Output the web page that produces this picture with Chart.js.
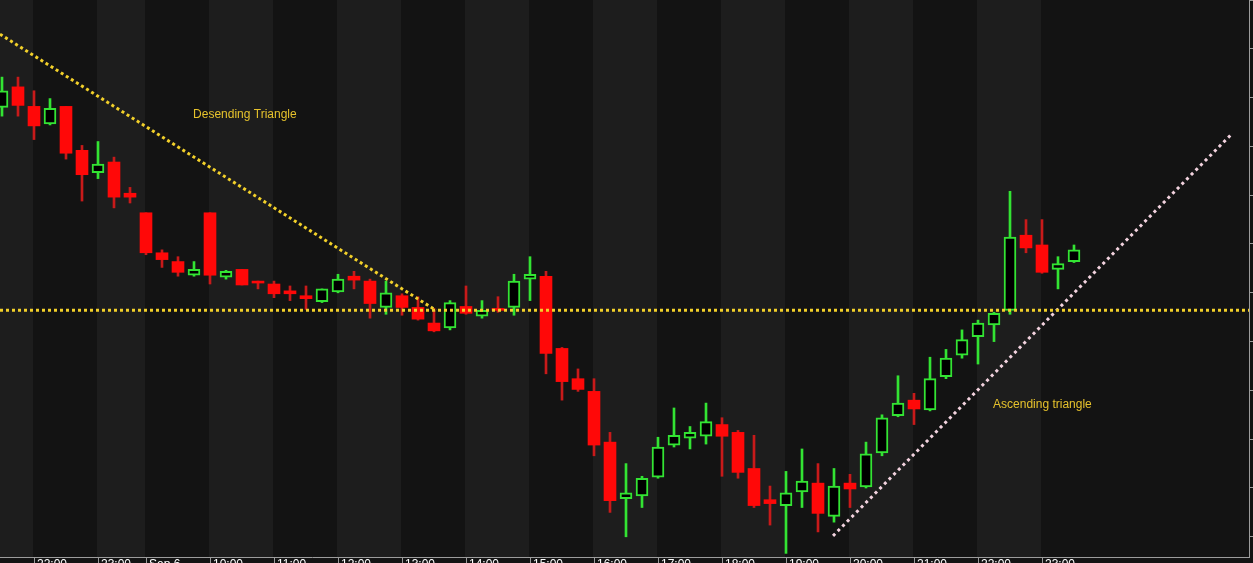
<!DOCTYPE html>
<html>
<head>
<meta charset="utf-8">
<title>Descending / Ascending Triangle</title>
<script src="https://cdn.jsdelivr.net/npm/chart.js@4.4.1/dist/chart.umd.min.js"></script>
<style>
  html, body { margin: 0; padding: 0; background: #131313; overflow: hidden; }
  canvas { display: block; }
</style>
</head>
<body>
<canvas id="chart" width="1300" height="580"></canvas>
<script>
// 15 minute candles, one slot each
const opens = [
  1344.0, 1346.1, 1344.1, 1342.3, 1344.1, 1339.6, 1337.3, 1338.4, 1335.2, 1333.2,
  1329.1, 1328.2, 1326.8, 1333.2, 1326.6, 1327.4, 1326.2, 1325.9, 1325.2, 1324.7,
  1324.1, 1325.1, 1326.7, 1326.2, 1323.5, 1324.7, 1323.5, 1321.9, 1321.4, 1323.6,
  1322.6, 1323.4, 1323.5, 1326.4, 1326.7, 1319.3, 1316.2, 1314.9, 1309.7, 1303.9,
  1304.2, 1306.1, 1309.4, 1310.1, 1310.3, 1311.5, 1310.7, 1307.0, 1303.8, 1303.2,
  1304.6, 1305.5, 1302.1, 1305.5, 1305.1, 1308.6, 1312.4, 1314.0, 1313.0, 1316.4,
  1318.6, 1320.5, 1321.7, 1323.2, 1330.9, 1329.9, 1327.4, 1328.2
];
const highs = [
  1347.1, 1347.1, 1345.7, 1344.9, 1344.1, 1340.1, 1340.5, 1338.9, 1335.8, 1333.2,
  1329.4, 1328.7, 1328.2, 1333.2, 1327.3, 1327.4, 1326.2, 1326.2, 1325.7, 1325.7,
  1325.4, 1326.9, 1327.2, 1326.4, 1326.2, 1324.9, 1324.6, 1323.4, 1324.2, 1325.7,
  1324.2, 1324.6, 1326.9, 1328.7, 1327.2, 1319.4, 1317.2, 1316.2, 1310.7, 1307.5,
  1306.2, 1310.2, 1313.2, 1311.3, 1313.7, 1312.2, 1310.9, 1310.4, 1305.2, 1306.7,
  1309.0, 1307.5, 1307.0, 1306.4, 1309.7, 1312.5, 1316.5, 1314.7, 1318.4, 1319.2,
  1321.2, 1322.2, 1323.0, 1335.4, 1332.5, 1332.5, 1328.7, 1329.9
];
const lows = [
  1343.1, 1343.1, 1340.7, 1342.2, 1338.7, 1334.4, 1336.7, 1333.7, 1334.2, 1328.9,
  1327.6, 1326.7, 1326.7, 1325.9, 1326.4, 1325.8, 1325.4, 1324.5, 1324.2, 1323.3,
  1324.0, 1325.0, 1325.4, 1322.4, 1322.8, 1322.7, 1322.2, 1321.0, 1321.2, 1322.8,
  1322.4, 1323.0, 1322.7, 1324.2, 1316.7, 1314.0, 1314.9, 1308.3, 1302.5, 1300.0,
  1303.0, 1306.0, 1309.2, 1309.0, 1309.5, 1306.2, 1306.0, 1303.0, 1301.2, 1298.3,
  1303.0, 1300.5, 1301.5, 1303.0, 1305.0, 1308.3, 1312.3, 1311.5, 1312.9, 1316.2,
  1318.3, 1317.7, 1320.0, 1322.8, 1329.1, 1327.0, 1325.4, 1328.1
];
const closes = [
  1345.7, 1344.2, 1342.1, 1343.9, 1339.3, 1337.1, 1338.2, 1334.8, 1334.8, 1329.1,
  1328.4, 1327.1, 1327.4, 1326.8, 1327.2, 1325.8, 1326.0, 1324.9, 1324.9, 1324.4,
  1325.4, 1326.4, 1326.3, 1323.9, 1325.0, 1323.5, 1322.3, 1321.1, 1324.0, 1322.9,
  1323.2, 1323.2, 1326.2, 1326.9, 1318.8, 1315.9, 1315.1, 1309.4, 1303.7, 1304.5,
  1306.0, 1309.2, 1310.4, 1310.7, 1311.8, 1310.3, 1306.6, 1303.2, 1303.4, 1304.5,
  1305.7, 1302.4, 1305.2, 1304.9, 1308.5, 1312.2, 1313.7, 1313.1, 1316.2, 1318.3,
  1320.2, 1321.9, 1322.9, 1330.7, 1329.6, 1327.1, 1328.0, 1329.4
];

// hour marks on the time axis (candle slot -> label)
const hourSlots = [2, 6, 9, 13, 17, 21, 25, 29, 33, 37, 41, 45, 49, 53, 57, 61, 65];
const hourLabels = ['22:00', '23:00', 'Sep 6', '10:00', '11:00', '12:00', '13:00', '14:00',
  '15:00', '16:00', '17:00', '18:00', '19:00', '20:00', '21:00', '22:00', '23:00'];

// drawn trend lines (slot, price)
const descendingLine = [{ x: -0.125, y: 1351.5 }, { x: 27.125, y: 1323.2 }];
const supportLine = [{ x: -0.125, y: 1323.2 }, { x: 77.94, y: 1323.2 }];
const ascendingLine = [{ x: 51.94, y: 1300.1 }, { x: 76.875, y: 1341.3 }];

// text notes
const noteTexts = ['Desending Triangle', 'Ascending triangle'];
const noteSlots = [11.94, 61.94];
const notePrices = [1343.2, 1313.5];

const X_MIN = -0.125;
const X_MAX = 77.9375;
const Y_MIN = 1297.93;
const Y_MAX = 1355;

const UP = '#33e333';
const DOWN = '#ff0808';
const DOWN_WICK = '#c81a1a';
const AXIS = '#9c9c9c';

const isUp = i => closes[i] >= opens[i];

const bodies = opens.map((o, i) => ({ x: i, y: [Math.min(o, closes[i]), Math.max(o, closes[i])] }));
const wicks = opens.map((o, i) => ({ x: i, y: [lows[i], highs[i]] }));

// alternating hour bands behind the candles
const sessionBands = {
  id: 'sessionBands',
  beforeDraw(chart) {
    const { ctx, chartArea: a, scales: { x } } = chart;
    ctx.save();
    ctx.fillStyle = '#131313';
    ctx.fillRect(0, 0, chart.width, chart.height);
    const edges = [a.left, ...hourSlots.map(v => Math.round(x.getPixelForValue(v)) - 1), a.right];
    for (let i = 0; i < edges.length - 1; i++) {
      ctx.fillStyle = i % 2 === 0 ? '#1d1d1d' : '#131313';
      ctx.fillRect(edges[i], a.top, edges[i + 1] - edges[i], a.bottom - a.top);
    }
    ctx.restore();
  }
};

const notes = {
  id: 'notes',
  afterDatasetsDraw(chart) {
    const { ctx, scales: { x, y } } = chart;
    ctx.save();
    ctx.font = '12px "Liberation Sans", Arial, sans-serif';
    ctx.fillStyle = '#e6c22c';
    ctx.textBaseline = 'middle';
    noteTexts.forEach((t, i) => {
      ctx.fillText(t, x.getPixelForValue(noteSlots[i]), y.getPixelForValue(notePrices[i]));
    });
    ctx.restore();
  }
};

const trend = (data, color, dash) => ({
  type: 'line',
  data,
  borderColor: color,
  borderWidth: 3,
  borderDash: dash,
  pointRadius: 0,
  fill: false,
  order: 0
});

new Chart(document.getElementById('chart'), {
  type: 'bar',
  data: {
    datasets: [
      trend(descendingLine, '#f2d02a', [3, 3]),
      trend(supportLine, '#f2d02a', [3, 3]),
      trend(ascendingLine, '#f3d3df', [3, 3.6]),
      {
        data: bodies,
        barThickness: 12,
        grouped: false,
        borderSkipped: false,
        backgroundColor: c => isUp(c.dataIndex) ? '#000000' : DOWN,
        borderColor: c => isUp(c.dataIndex) ? UP : DOWN,
        borderWidth: c => isUp(c.dataIndex) ? 2 : 0,
        order: 1
      },
      {
        data: wicks,
        barThickness: 2,
        grouped: false,
        borderSkipped: false,
        borderWidth: 0,
        backgroundColor: c => isUp(c.dataIndex) ? UP : DOWN_WICK,
        order: 2
      }
    ]
  },
  options: {
    responsive: false,
    animation: false,
    events: [],
    layout: { padding: 0 },
    plugins: { legend: { display: false }, tooltip: { enabled: false } },
    scales: {
      x: {
        type: 'linear',
        offset: false,
        min: X_MIN,
        max: X_MAX,
        afterBuildTicks: scale => { scale.ticks = hourSlots.map(v => ({ value: v })); },
        afterFit: scale => { scale.height = 23; },
        grid: { offset: false, drawOnChartArea: false, drawTicks: true, tickLength: 8, color: AXIS },
        border: { color: AXIS },
        ticks: {
          autoSkip: false,
          maxRotation: 0,
          align: 'start',
          labelOffset: 3,
          padding: -8,
          color: '#ffffff',
          font: { family: '"Liberation Sans", Arial, sans-serif', size: 12 },
          callback: (v, i) => hourLabels[i]
        }
      },
      y: {
        type: 'linear',
        position: 'right',
        min: Y_MIN,
        max: Y_MAX,
        afterFit: scale => { scale.width = 51; },
        grid: { drawOnChartArea: false, drawTicks: true, tickLength: 4, color: AXIS },
        border: { color: AXIS },
        ticks: { display: false, stepSize: 5, includeBounds: false }
      }
    }
  },
  plugins: [sessionBands, notes]
});
</script>
</body>
</html>
